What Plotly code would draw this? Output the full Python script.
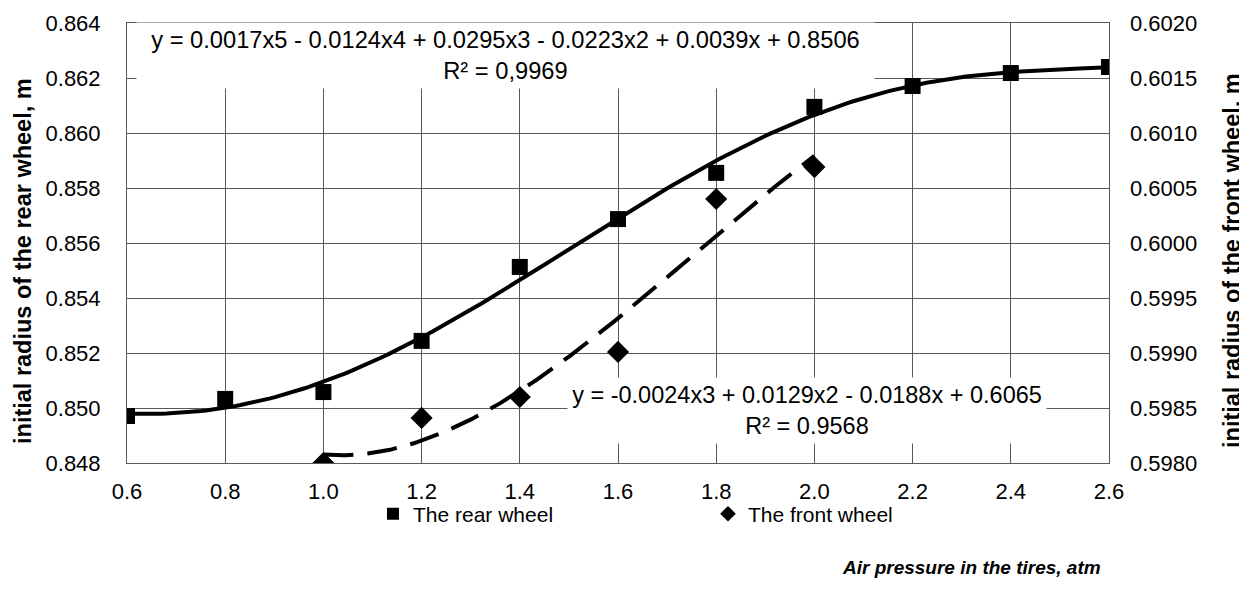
import numpy as np
import plotly.graph_objects as go

# ---- data ----
rear_x = [0.6, 0.8, 1.0, 1.2, 1.4, 1.6, 1.8, 2.0, 2.2, 2.4, 2.6]
rear_y = [0.84971, 0.85033, 0.85058, 0.85244, 0.85513, 0.85687, 0.85855, 0.86095, 0.86171, 0.86218, 0.86240]
front_x = [1.0, 1.2, 1.4, 1.6, 1.8, 2.0]
front_y = [0.59800, 0.59841, 0.59860, 0.59901, 0.60040, 0.60069]

rear_name = "The rear wheel"
front_name = "The front wheel"
rear_eq = "y = 0.0017x5 - 0.0124x4 + 0.0295x3 - 0.0223x2 + 0.0039x + 0.8506<br>R² = 0,9969"
front_eq = "y = -0.0024x3 + 0.0129x2 - 0.0188x + 0.6065<br>R² = 0.9568"
x_title = "Air pressure in the tires, atm"
y1_title = "initial radius of the rear wheel, m"
y2_title = "initial radius of the front wheel, m"

# ---- trend lines (polynomial fits of the data) ----
rc = np.polyfit(rear_x, rear_y, 5)
fc = np.polyfit(front_x, front_y, 3)
rtx = np.linspace(min(rear_x), max(rear_x), 200)
ftx = np.linspace(min(front_x), max(front_x), 200)

FONT = "Liberation Sans, Arial, sans-serif"
fig = go.Figure()
fig.add_trace(go.Scatter(x=rtx, y=np.polyval(rc, rtx), mode="lines",
                         line=dict(color="black", width=4), showlegend=False, hoverinfo="skip"))
fig.add_trace(go.Scatter(x=ftx, y=np.polyval(fc, ftx), mode="lines", yaxis="y2",
                         line=dict(color="black", width=4, dash="30px,14px"), showlegend=False, hoverinfo="skip"))
fig.add_trace(go.Scatter(x=rear_x, y=rear_y, mode="markers", name=rear_name,
                         marker=dict(symbol="square", size=16, color="black")))
fig.add_trace(go.Scatter(x=front_x, y=front_y, mode="markers", name=front_name, yaxis="y2",
                         marker=dict(symbol="diamond", size=17, color="black")))

grid = "#595959"
fig.update_layout(
    width=1239, height=581,
    margin=dict(l=119, r=138, t=15, b=126, autoexpand=False),
    paper_bgcolor="white", plot_bgcolor="white",
    font=dict(family=FONT, size=22, color="black"),
    xaxis=dict(range=[0.6, 2.6], dtick=0.2, tick0=0.6, tickformat=".1f",
               showgrid=True, gridcolor=grid, gridwidth=1,
               showline=True, linecolor=grid, linewidth=1, mirror=True,
               ticks="", ticklabelstandoff=9, zeroline=False, automargin=False),
    yaxis=dict(range=[0.848, 0.864], dtick=0.002, tick0=0.848, tickformat=".3f",
               showgrid=True, gridcolor=grid, gridwidth=1,
               showline=True, linecolor=grid, linewidth=1, mirror=True,
               ticks="", ticklabelstandoff=21, zeroline=False, automargin=False),
    yaxis2=dict(range=[0.598, 0.602], dtick=0.0005, tick0=0.598, tickformat=".4f",
                overlaying="y", side="right", showgrid=False,
                ticks="", ticklabelstandoff=20, zeroline=False, automargin=False),
    legend=dict(orientation="h", x=0.2505, y=-0.116, xanchor="left", yanchor="middle",
                entrywidth=290, font=dict(size=21), itemsizing="constant",
                bgcolor="rgba(0,0,0,0)"),
    showlegend=True,
)

fig.add_annotation(xref="paper", yref="paper", x=(505 - 127) / 982, y=(463 - 55.5) / 440,
                   xanchor="center", yanchor="middle", text=rear_eq,
                   showarrow=False, bgcolor="white", width=735, height=63,
                   align="center", font=dict(size=23.7))
fig.add_annotation(xref="paper", yref="paper", x=(807 - 127) / 982, y=(463 - 410.5) / 440,
                   xanchor="center", yanchor="middle", text=front_eq,
                   showarrow=False, bgcolor="white", width=476, height=63,
                   align="center", font=dict(size=23.5))
fig.add_annotation(xref="paper", yref="paper", x=(1103 - 127) / 982, y=(463 - 567) / 440,
                   text="<b><i>" + x_title + "</i></b>",
                   showarrow=False, xanchor="right", yanchor="middle", font=dict(size=19))
fig.add_annotation(xref="paper", yref="paper", x=(23 - 127) / 982, y=(463 - 261) / 440,
                   text="<b>" + y1_title + "</b>",
                   showarrow=False, textangle=-90, xanchor="center", yanchor="middle", font=dict(size=23.5))
fig.add_annotation(xref="paper", yref="paper", x=(1232 - 127) / 982, y=(463 - 261) / 440,
                   text="<b>" + y2_title + "</b>",
                   showarrow=False, textangle=-90, xanchor="center", yanchor="middle", font=dict(size=23.5))

fig.write_html("out.html")
